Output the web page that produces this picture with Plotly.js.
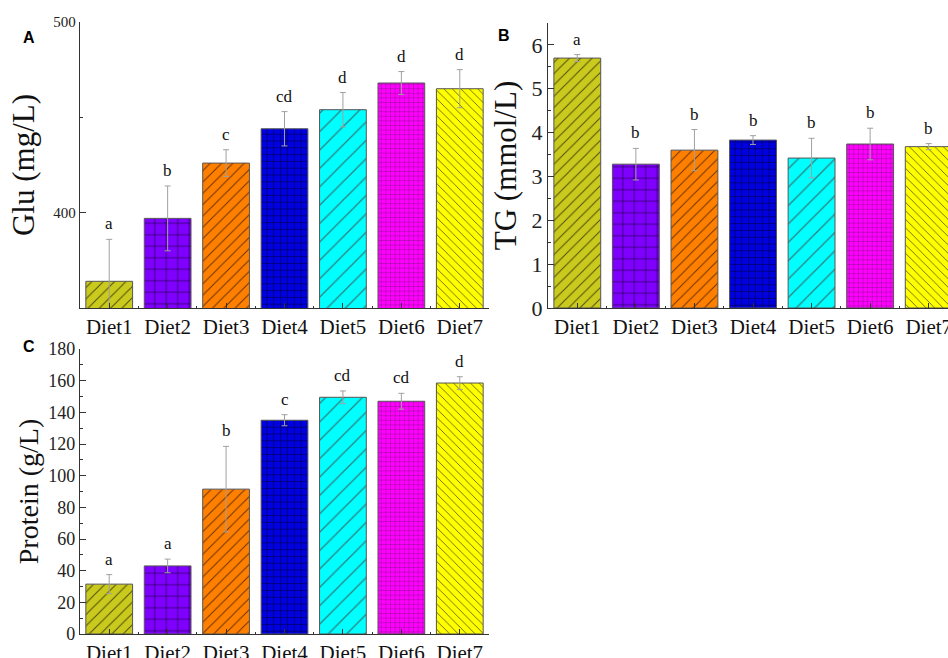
<!DOCTYPE html>
<html>
<head>
<meta charset="utf-8">
<script src="https://cdn.plot.ly/plotly-3.0.1.min.js"></script>
<style>
html,body{margin:0;padding:0;overflow:hidden;background:#fff;width:948px;height:658px;}
#chart{width:975px;height:658px;}
</style>
</head>
<body>
<div id="chart"></div>
<script>
// ---- data ----
const categories = ["Diet1","Diet2","Diet3","Diet4","Diet5","Diet6","Diet7"];
const gluMean = [364, 397, 426, 444, 454, 468, 465];
const gluErr  = [22, 17, 7, 9, 9, 6, 10];
const gluLetters = ["a","b","c","cd","d","d","d"];
const tgMean = [5.70, 3.28, 3.60, 3.83, 3.42, 3.74, 3.68];
const tgErr  = [0.08, 0.36, 0.47, 0.10, 0.45, 0.36, 0.07];
const tgLetters = ["a","b","b","b","b","b","b"];
const proteinMean = [31.5, 43, 91.5, 135, 149.5, 147, 158.5];
const proteinErr  = [6, 4.3, 27, 3.5, 4, 5, 4];
const proteinLetters = ["a","a","b","c","cd","cd","d"];

// ---- styles ----
const barColors = ["#CACA1E","#7F00FF","#FF8000","#0000E0","#00FFFF","#FF00FF","#FFFF00"];
const patShapes = ["/","+","/","+","/","+","\\"];
const patSizes  = [8, 11.5, 8, 6.8, 13, 4.6, 6];
const patSolid  = [0.12, 0.1, 0.12, 0.14, 0.1, 0.13, 0.14];
const patFg     = ["#4a4a08","#1a0030","#6a3000","#000030","#2f8080","#5a1a5a","#5a5a00"];

const W = 975, H = 658;
const serif = "Liberation Serif";
const xIdx = categories.map((c,i)=>i+1);
const minorX = categories.slice(0,-1).map((c,i)=>i+1.5);

function barTraces(mean, err, xa, ya){
  return categories.map((c,i)=>({
    type:'bar', x:[xIdx[i]], y:[mean[i]], xaxis:xa, yaxis:ya, width:0.8,
    marker:{color:barColors[i], line:{color:'#555', width:1},
      pattern:{shape:patShapes[i], size:patSizes[i], fgcolor:patFg[i], bgcolor:barColors[i],
               fgopacity:1, solidity:patSolid[i], fillmode:'overlay'}},
    error_y:{type:'data', array:[err[i]], visible:true, color:'#a0a0a0', thickness:1, width:3},
    hoverinfo:'skip', showlegend:false
  }));
}
function letterAnns(mean, err, letters, xr, yr){
  return letters.map((t,i)=>({
    x:xIdx[i], y:mean[i]+err[i], xref:xr, yref:yr, text:t, showarrow:false,
    yanchor:'bottom', yshift:4, font:{family:serif, size:17, color:'#111'}
  }));
}
function xAxis(dom, anchor){
  return {domain:dom, anchor:anchor, range:[0.5,7.5], tickmode:'array', tickvals:xIdx, ticktext:categories,
    ticks:'inside', ticklen:5, tickcolor:'#333', showline:true, linecolor:'#333', linewidth:1.2,
    showgrid:false, zeroline:false, fixedrange:true,
    minor:{tickmode:'array', tickvals:minorX, ticks:'inside', ticklen:2, tickcolor:'#333'},
    tickfont:{family:serif, size:21, color:'#111'}};
}
function yAxis(dom, anchor, range, dtick, minorD, tsize, title, tfs, standoff){
  return {domain:dom, anchor:anchor, range:range, dtick:dtick, tick0:0,
    ticks:'inside', ticklen:6, tickcolor:'#333', showline:true, linecolor:'#333', linewidth:1.2,
    showgrid:false, zeroline:false, fixedrange:true,
    minor:{dtick:minorD, ticks:'inside', ticklen:3, tickcolor:'#333'},
    tickfont:{family:serif, size:tsize, color:'#222'},
    title:{text:title, font:{family:serif, size:tfs, color:'#111'}, standoff:standoff}};
}
function px(x){return x/W;}
function py(y){return 1-y/H;}

const data = [].concat(
  barTraces(gluMean, gluErr, 'x', 'y'),
  barTraces(tgMean, tgErr, 'x2', 'y2'),
  barTraces(proteinMean, proteinErr, 'x3', 'y3')
);

const layout = {
  width:W, height:H, margin:{l:0,r:0,t:0,b:0},
  font:{family:serif, color:'#111'},
  paper_bgcolor:'#fff', plot_bgcolor:'rgba(0,0,0,0)',
  barmode:'overlay',
  xaxis: xAxis([px(80),px(489)], 'y'),
  yaxis: yAxis([py(308),py(22)], 'x', [350,500], 100, 50, 15, 'Glu (mg/L)', 31, 9),
  xaxis2: xAxis([px(548),px(958)], 'y2'),
  yaxis2: yAxis([py(308),py(23)], 'x2', [0,6.5], 1, 0.5, 22, 'TG (mmol/L)', 31, 5),
  xaxis3: xAxis([px(80),px(489)], 'y3'),
  yaxis3: yAxis([py(634),py(349)], 'x3', [0,180], 20, 10, 18, 'Protein (g/L)', 28, 1),
  annotations: [].concat(
    letterAnns(gluMean, gluErr, gluLetters, 'x', 'y'),
    letterAnns(tgMean, tgErr, tgLetters, 'x2', 'y2'),
    letterAnns(proteinMean, proteinErr, proteinLetters, 'x3', 'y3'),
    [
      {text:'<b>A</b>', x:px(21), y:py(27), xref:'paper', yref:'paper', showarrow:false, font:{family:'Liberation Sans', size:16, color:'#000'}},
      {text:'<b>B</b>', x:px(504), y:py(25), xref:'paper', yref:'paper', showarrow:false, font:{family:'Liberation Sans', size:16, color:'#000'}},
      {text:'<b>C</b>', x:px(21), y:py(346), xref:'paper', yref:'paper', showarrow:false, font:{family:'Liberation Sans', size:16, color:'#000'}}
    ]
  )
};

Plotly.newPlot('chart', data, layout, {displayModeBar:false, staticPlot:true});
</script>
</body>
</html>
